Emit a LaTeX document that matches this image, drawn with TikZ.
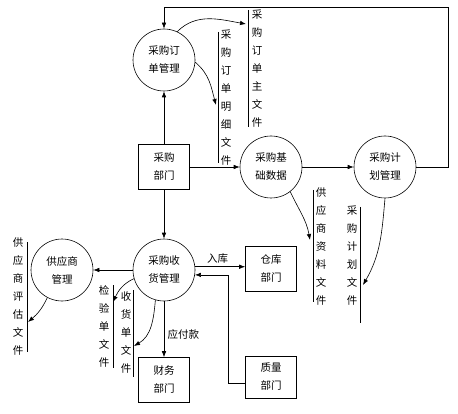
\documentclass[tikz,border=0pt]{standalone}
\usepackage{fontspec}
\newfontfamily\cjk{Noto Sans CJK SC}
\usetikzlibrary{arrows.meta}

\tikzset{
  every node/.style={font=\cjk\fontsize{10.5}{18}\selectfont},
  proc/.style={draw, circle, minimum size=62pt, inner sep=0pt, align=center},
  dept/.style={draw, rectangle, minimum width=51pt, minimum height=45pt, align=center},
  store/.style={inner sep=0pt, align=center},
  flow/.style={draw, -{Latex[length=6pt,width=4.5pt]}},
}

\begin{document}
\begin{tikzpicture}[x=1pt, y=1pt, line width=0.6pt]
\useasboundingbox (0,0) rectangle (458,413);

% processes
\node[proc] (ordmgmt) at (164,353) {采购订\\单管理};
\node[proc] (basedata) at (271,246) {采购基\\础数据};
\node[proc] (planmgmt) at (385,246) {采购计\\划管理};
\node[proc] (recvmgmt) at (164,143) {采购收\\货管理};
\node[proc] (supmgmt) at (62,143) {供应商\\管理};

% departments
\node[dept] (purdept) at (164,246) {采购\\部门};
\node[dept] (whdept) at (271,144) {仓库\\部门};
\node[dept] (findept) at (164,33) {财务\\部门};
\node[dept, minimum height=42pt] (qadept) at (271,36) {质量\\部门};

% data stores
\node[store] (mainfile) at (257,344) {采\\购\\订\\单\\主\\文\\件};
\draw (248,403) -- (248,286);
\node[store] (detailfile) at (226,315) {采\\购\\订\\单\\明\\细\\文\\件};
\draw (218,381) -- (218,250);
\node[store] (supinfo) at (321,166) {供\\应\\商\\资\\料\\文\\件};
\draw (313,223) -- (313,111);
\node[store] (planfile) at (352,157) {采\\购\\计\\划\\文\\件};
\draw (360,206) -- (360,90);
\node[store] (supeval) at (18,116) {供\\应\\商\\评\\估\\文\\件};
\draw (27,171) -- (27,61);
\node[store] (inspfile) at (104,87) {检\\验\\单\\文\\件};
\draw (113,128) -- (113,45);
\node[store] (recvfile) at (126,80) {收\\货\\单\\文\\件};
\draw (133,123) -- (133,36);

% arrow ends at the stores
\coordinate (mainin) at (246,389);
\coordinate (detailin) at (216,308);
\coordinate (supinfoin) at (310,173);
\coordinate (planin) at (363,128);
\coordinate (evalin) at (28,91);
\coordinate (inspin) at (113,111);
\coordinate (recvin) at (134,67);
\coordinate (loopR) at (448,406);
\coordinate (qabend) at (228,30);

% flows
\path[flow] (purdept) -- (ordmgmt);
\path[flow] (purdept) -- (basedata);
\path[flow] (basedata) -- (planmgmt);
\path[flow] (planmgmt.east) -| (loopR) -| (ordmgmt.north);
\path[flow] (purdept) -- (recvmgmt);
\path[flow] (recvmgmt) -- (supmgmt);
\path[flow] (recvmgmt.6) -- (recvmgmt.6 -| whdept.west)
  node[above, pos=0.45] {入库};
\path[flow] (recvmgmt) -- (findept) node[right, pos=0.6] {应付款};
\path[flow] (qadept.west |- qabend) -- (qabend) |- (recvmgmt.-9);

\path[flow] (ordmgmt.65) to[out=45, in=170] (mainin);
\path[flow] (ordmgmt.-4) to[out=-40, in=105] (detailin);
\path[flow] (basedata.-52) to[out=-65, in=100] (supinfoin);
\path[flow] (planmgmt.-90) to[out=-95, in=60] (planin);
\path[flow] (supmgmt.-118) to[out=-115, in=40] (evalin);
\path[flow] (recvmgmt.196) to[out=205, in=65] (inspin);
\path[flow] (recvmgmt.-106) to[out=-95, in=30] (recvin);
\end{tikzpicture}
\end{document}
